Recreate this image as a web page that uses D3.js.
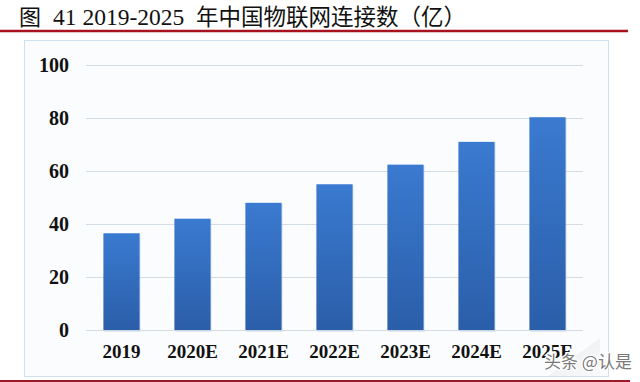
<!DOCTYPE html>
<html><head><meta charset="utf-8">
<script src="https://cdn.jsdelivr.net/npm/d3@7/dist/d3.min.js"></script>
<style>html,body{margin:0;padding:0;background:#fff;}svg{display:block;}</style>
</head><body>
<script>
const categories = ["2019","2020E","2021E","2022E","2023E","2024E","2025E"];
const values = [36.5, 42, 48, 55, 62.4, 71, 80.3];
const yTicks = [0, 20, 40, 60, 80, 100];
const titleParts = ["图", "41 2019-2025", "年中国物联网连接数（亿）"];
const watermark = "头条 @认是";

const W = 640, H = 382;
const svg = d3.select("body").append("svg").attr("width", W).attr("height", H);
const defs = svg.append("defs");
const grad = defs.append("linearGradient").attr("id","barGrad").attr("x1",0).attr("y1",0).attr("x2",0).attr("y2",1);
grad.append("stop").attr("offset","0%").attr("stop-color","#3a7ad0");
grad.append("stop").attr("offset","100%").attr("stop-color","#2b5ea9");
const tri = defs.append("linearGradient").attr("id","triGrad").attr("x1",0).attr("y1",0).attr("x2",1).attr("y2",1);
tri.append("stop").attr("offset","0%").attr("stop-color","#e4e6ea");
tri.append("stop").attr("offset","100%").attr("stop-color","#f8f9fa");

// title
const t = svg.append("text").attr("y", 25).attr("fill", "#111");
t.append("tspan").attr("x", 19).attr("font-family","'Noto Sans CJK SC'").attr("font-size", 22).text(titleParts[0]);
t.append("tspan").attr("x", 53).attr("font-family","'Liberation Serif'").attr("font-size", 23.5).text(titleParts[1]);
t.append("tspan").attr("x", 196).attr("font-family","'Noto Sans CJK SC'").attr("font-size", 22.5).text(titleParts[2]);

// red rules
svg.append("line").attr("x1",0).attr("x2",628).attr("y1",31).attr("y2",31).attr("stroke","#a8121e").attr("stroke-width",2.5);
svg.append("line").attr("x1",0).attr("x2",630).attr("y1",381).attr("y2",381).attr("stroke","#9c1a28").attr("stroke-width",2);

// panel
svg.append("rect").attr("x",24.5).attr("y",40.5).attr("width",584).attr("height",336)
  .attr("fill","#fbfcfe").attr("stroke","#cfe0ee").attr("stroke-width",1);

// scales
const x = d3.scaleBand().domain(categories).range([86, 583]).paddingInner(0.49).paddingOuter(0.245);
const y = d3.scaleLinear().domain([0, 100]).range([330, 65]);

// grid
const grid = svg.append("g").attr("transform","translate(0,0)")
  .call(d3.axisLeft(y).tickValues(yTicks).tickSize(-(583-86)).tickFormat(""))
  .attr("transform","translate(86,0)");
grid.select(".domain").remove();
grid.selectAll(".tick line").attr("stroke","#d3dbe4").attr("stroke-width",1);

// faint triangle decoration bottom right
svg.append("polygon").attr("points","600,338 600,376 548,376").attr("fill","url(#triGrad)").attr("opacity",0.8);

// bars
svg.append("g").selectAll("rect.shadow").data(values).join("rect")
  .attr("x",(d,i)=>x(categories[i])+1).attr("y",(d)=>y(d)+1)
  .attr("width",x.bandwidth()).attr("height",d=>y(0)-y(d)+1)
  .attr("fill","#c9d6e6").attr("opacity",0.6);
svg.append("g").selectAll("rect.bar").data(values).join("rect")
  .attr("x",(d,i)=>x(categories[i])).attr("y",d=>y(d))
  .attr("width",x.bandwidth()).attr("height",d=>y(0)-y(d))
  .attr("fill","url(#barGrad)");

// y axis labels
const ya = svg.append("g").attr("transform","translate(86,0)")
  .call(d3.axisLeft(y).tickValues(yTicks).tickSize(0).tickPadding(17));
ya.select(".domain").remove();
ya.selectAll("text").attr("font-family","'Liberation Serif'").attr("font-weight","bold")
  .attr("font-size",20).attr("fill","#111").attr("dy","0.34em");

// x axis labels
const xa = svg.append("g").attr("transform","translate(0,330)")
  .call(d3.axisBottom(x).tickSize(0).tickPadding(15));
xa.select(".domain").remove();
xa.selectAll("text").attr("font-family","'Liberation Serif'").attr("font-weight","bold")
  .attr("font-size",19).attr("fill","#111").attr("dy","0.71em");

// watermark
svg.append("text").attr("x",544).attr("y",368).attr("font-family","'Noto Sans CJK SC'")
  .attr("font-size",17).attr("fill","#7a7a7a").attr("stroke","#fff").attr("stroke-width",2.5)
  .attr("paint-order","stroke").text(watermark);
</script>
</body></html>
